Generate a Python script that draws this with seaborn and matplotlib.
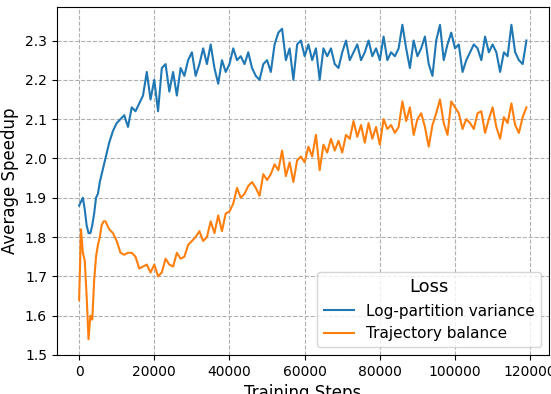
import matplotlib
matplotlib.use("Agg")
import matplotlib.pyplot as plt
import pandas as pd
import seaborn as sns

# training steps: every 500 early on, every 1000 afterwards
steps = list(range(0, 8000, 500)) + list(range(8000, 120000, 1000))

# Log-partition variance (blue)
logpart = [
    1.88, 1.89, 1.90, 1.87, 1.83, 1.81, 1.81, 1.83,
    1.86, 1.90, 1.91, 1.94, 1.96, 1.98, 2.00, 2.02,
    # 8000 ->
    2.04, 2.07, 2.09, 2.10, 2.11, 2.08, 2.13, 2.12, 2.14, 2.16,
    2.22, 2.15, 2.20, 2.12, 2.23, 2.24, 2.17, 2.22, 2.16, 2.23,
    2.21, 2.25, 2.27, 2.21, 2.24, 2.28, 2.24, 2.29, 2.23, 2.19,
    2.25, 2.22, 2.24, 2.28, 2.25, 2.26, 2.24, 2.27, 2.23, 2.21,
    2.20, 2.24, 2.25, 2.22, 2.29, 2.32, 2.33, 2.25, 2.28, 2.20,
    2.29, 2.30, 2.26, 2.29, 2.25, 2.28, 2.20, 2.28, 2.26, 2.28,
    2.24, 2.23, 2.27, 2.30, 2.25, 2.27, 2.29, 2.25, 2.27, 2.30,
    2.26, 2.28, 2.25, 2.31, 2.25, 2.27, 2.26, 2.28, 2.34, 2.28,
    2.23, 2.30, 2.26, 2.28, 2.31, 2.24, 2.21, 2.30, 2.34, 2.25,
    2.29, 2.32, 2.28, 2.29, 2.22, 2.25, 2.27, 2.29, 2.28, 2.25,
    2.31, 2.27, 2.29, 2.27, 2.22, 2.27, 2.26, 2.34, 2.27, 2.25,
    2.24, 2.30,
]

# Trajectory balance (orange)
trajbal = [
    1.64, 1.82, 1.76, 1.74, 1.65, 1.54, 1.60, 1.59,
    1.69, 1.75, 1.78, 1.80, 1.83, 1.84, 1.84, 1.83,
    # 8000 ->
    1.82, 1.81, 1.79, 1.76, 1.755, 1.76, 1.76, 1.75, 1.72, 1.725,
    1.73, 1.71, 1.73, 1.70, 1.71, 1.745, 1.73, 1.725, 1.76, 1.745,
    1.75, 1.78, 1.79, 1.80, 1.815, 1.79, 1.80, 1.84, 1.81, 1.855,
    1.815, 1.86, 1.865, 1.885, 1.925, 1.90, 1.91, 1.93, 1.94, 1.925,
    1.905, 1.96, 1.945, 1.96, 1.985, 1.97, 2.02, 1.955, 1.99, 1.94,
    1.995, 2.005, 1.99, 2.03, 2.005, 2.06, 1.97, 2.035, 2.015, 2.05,
    2.02, 2.045, 2.015, 2.06, 2.05, 2.095, 2.055, 2.085, 2.04, 2.09,
    2.05, 2.08, 2.035, 2.10, 2.075, 2.085, 2.065, 2.08, 2.145, 2.095,
    2.13, 2.06, 2.10, 2.115, 2.08, 2.03, 2.085, 2.115, 2.15, 2.09,
    2.06, 2.145, 2.13, 2.115, 2.075, 2.10, 2.09, 2.075, 2.115, 2.12,
    2.065, 2.10, 2.13, 2.08, 2.05, 2.105, 2.09, 2.14, 2.085, 2.065,
    2.105, 2.13,
]

df = pd.concat([
    pd.DataFrame({"step": steps, "speedup": logpart, "Loss": "Log-partition variance"}),
    pd.DataFrame({"step": steps, "speedup": trajbal, "Loss": "Trajectory balance"}),
])

fig, ax = plt.subplots(figsize=(5.51, 3.94), dpi=100)
fig.subplots_adjust(left=0.103, right=0.996, top=0.982, bottom=0.099)

sns.lineplot(data=df, x="step", y="speedup", hue="Loss", ax=ax,
             palette=["#1f77b4", "#ff7f0e"], linewidth=1.5)

ax.grid(True, linestyle="--", color="#b0b0b0", linewidth=0.8)
ax.set_xlabel("Training Steps", fontsize=12)
ax.set_ylabel("Average Speedup", fontsize=12)
ax.set_xticks([0, 20000, 40000, 60000, 80000, 100000, 120000])
ax.set_yticks([1.5, 1.6, 1.7, 1.8, 1.9, 2.0, 2.1, 2.2, 2.3])
ax.set_ylim(1.5, 2.385)
ax.tick_params(labelsize=10)

leg = ax.legend(title="Loss", loc="lower right", fontsize=11, title_fontsize=13)

fig.savefig("out.png")
